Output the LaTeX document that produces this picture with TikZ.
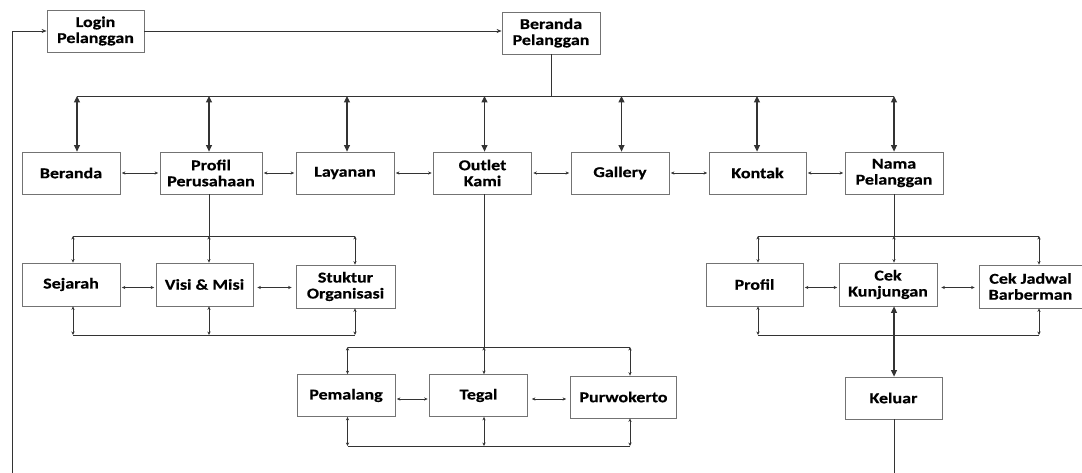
\documentclass[tikz,border=0pt]{standalone}
\usepackage{fontspec}
\setmainfont{Carlito}[FakeStretch=1.2,BoldFeatures={FakeBold=0.5}]
\usetikzlibrary{arrows.meta}
\begin{document}
\begin{tikzpicture}[x=1pt,y=-1pt,
  box/.style={draw=black!55,line width=0.8pt,fill=white,minimum width=98pt,minimum height=42pt,
    inner sep=1pt,align=center,font=\bfseries\fontsize{15}{16}\selectfont},
  link/.style={draw=black!80,line width=0.8pt},
  bigarrow/.style={link,line width=1.2pt,{Triangle[length=6.5pt,width=6pt]}-{Triangle[length=6.5pt,width=6pt]}},
  smallarrow/.style={link,{Stealth[length=3.5pt,width=3.2pt]}-{Stealth[length=3.5pt,width=3.2pt]}},
  oneway/.style={link,-{Stealth[length=5pt,width=4pt]}}
]
\useasboundingbox (0,0) rectangle (1082,473);

% top level
\node[box,minimum width=97pt] (login) at (95.5,31) {Login\\Pelanggan};
\node[box] (home) at (551,33) {Beranda\\Pelanggan};

% main menu
\node[box] (beranda) at (71,173) {Beranda};
\node[box,minimum width=102pt] (profil) at (211,173) {Profil\\Perusahaan};
\node[box] (layanan) at (345,173) {Layanan};
\node[box] (outlet) at (482.5,173) {Outlet\\Kami};
\node[box] (gallery) at (620,173) {Gallery};
\node[box,minimum width=97pt] (kontak) at (757.5,173) {Kontak};
\node[box] (nama) at (894,173) {Nama\\Pelanggan};

% company profile
\node[box,minimum height=43pt] (sejarah) at (71,284.5) {Sejarah};
\node[box,minimum width=97pt,minimum height=43pt] (visi) at (204.5,284.5) {Visi \& Misi};
\node[box,minimum width=99pt,minimum height=43pt] (struktur) at (345.5,286.5) {Stuktur\\Organisasi};

% outlets
\node[box] (pemalang) at (346,395.5) {Pemalang};
\node[box] (tegal) at (478.5,395.5) {Tegal};
\node[box,minimum width=106pt] (purwo) at (623.5,397) {Purwokerto};

% customer menu
\node[box,minimum width=97pt,minimum height=43pt] (uprofil) at (754.5,284.5) {Profil};
\node[box,minimum height=43pt] (cek) at (888,284.5) {Cek\\Kunjungan};
\node[box,minimum width=103pt,minimum height=43pt] (jadwal) at (1030.5,286.5) {Cek Jadwal\\Barberman};
\node[box,minimum width=97pt] (keluar) at (893.5,398) {Keluar};

% bus coordinates
\coordinate (busA) at (551,96);
\coordinate (busB) at (209,236);
\coordinate (busC) at (484,347);
\coordinate (busD) at (894,236);
\coordinate (loopL) at (12,473);
\coordinate (loopR) at (894,473);

% login flow
\draw[oneway] (login.east) -- (home.west |- login.east);
\draw[oneway] (loopL) -- (loopL |- login.west) -- (login.west);

% main menu bus
\draw[link] (home.south) -- (busA);
\draw[link] (77,96) -- (894,96);
\foreach \x/\n in {77/beranda,209/profil,347/layanan,484.5/outlet,621.5/gallery,757/kontak,894/nama}
  \draw[bigarrow] (\x,96) -- (\x,0 |- \n.north);
\foreach \a/\b in {beranda/profil,profil/layanan,layanan/outlet,outlet/gallery,gallery/kontak,kontak/nama}
  \draw[smallarrow,shorten <=1.5pt,shorten >=1.5pt] (\a.east |- 0,173) -- (\b.west |- 0,173);

% company profile bus
\draw[link] (profil.south -| busB) -- (busB);
\draw[link] (73,236) -- (355,236);
\draw[link] (73,335) -- (355,335);
\foreach \x/\n in {73/sejarah,209/visi,355/struktur}{
  \draw[smallarrow] (\x,236) -- (\x,0 |- \n.north);
  \draw[smallarrow] (\x,335) -- (\x,0 |- \n.south);
}
\draw[smallarrow,shorten <=1.5pt,shorten >=1.5pt] (sejarah.east |- 0,287.5) -- (visi.west |- 0,287.5);
\draw[smallarrow,shorten <=4pt,shorten >=4pt] (visi.east |- 0,287.5) -- (struktur.west |- 0,287.5);

% outlets bus
\draw[link] (outlet.south -| busC) -- (busC);
\draw[link] (347.5,347) -- (630,347);
\draw[link] (347.5,446) -- (630,446);
\foreach \x/\n in {347.5/pemalang,484/tegal,630/purwo}{
  \draw[smallarrow] (\x,347) -- (\x,0 |- \n.north);
  \draw[smallarrow] (\x,446) -- (\x,0 |- \n.south);
}
\draw[smallarrow,shorten <=1.5pt,shorten >=1.5pt] (pemalang.east |- 0,399) -- (tegal.west |- 0,399);
\draw[smallarrow,shorten <=4pt,shorten >=4pt] (tegal.east |- 0,399) -- (purwo.west |- 0,399);

% customer menu bus
\draw[link] (nama.south) -- (busD);
\draw[link] (758,236) -- (1039,236);
\draw[link] (758,335) -- (1039,335);
\foreach \x/\n in {758/uprofil,894/cek,1039/jadwal}
  \draw[smallarrow] (\x,236) -- (\x,0 |- \n.north);
\foreach \x/\n in {758/uprofil,1039/jadwal}
  \draw[smallarrow] (\x,335) -- (\x,0 |- \n.south);
\draw[smallarrow,shorten <=1.5pt,shorten >=1.5pt] (uprofil.east |- 0,287.5) -- (cek.west |- 0,287.5);
\draw[smallarrow,shorten <=4pt,shorten >=4pt] (cek.east |- 0,287.5) -- (jadwal.west |- 0,287.5);
\draw[bigarrow] (894,0 |- cek.south) -- (894,0 |- keluar.north);
\draw[link] (keluar.south -| loopR) -- (loopR);
\end{tikzpicture}
\end{document}
